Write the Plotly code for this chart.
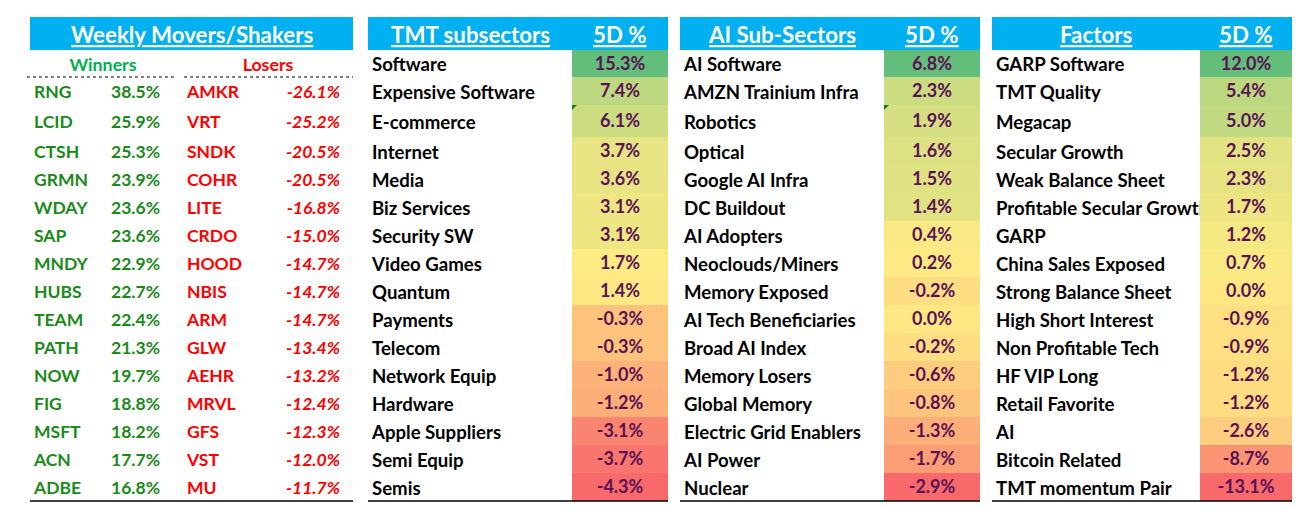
import numpy as np
import plotly.graph_objects as go

# ---------------- data ----------------
WIN_TICKERS = ["RNG", "LCID", "CTSH", "GRMN", "WDAY", "SAP", "MNDY", "HUBS",
               "TEAM", "PATH", "NOW", "FIG", "MSFT", "ACN", "ADBE"]
WIN_PCT = [38.5, 25.9, 25.3, 23.9, 23.6, 23.6, 22.9, 22.7,
           22.4, 21.3, 19.7, 18.8, 18.2, 17.7, 16.8]
LOSE_TICKERS = ["AMKR", "VRT", "SNDK", "COHR", "LITE", "CRDO", "HOOD", "NBIS",
                "ARM", "GLW", "AEHR", "MRVL", "GFS", "VST", "MU"]
LOSE_PCT = [-26.1, -25.2, -20.5, -20.5, -16.8, -15.0, -14.7, -14.7,
            -14.7, -13.4, -13.2, -12.4, -12.3, -12.0, -11.7]

TMT_NAMES = ["Software", "Expensive Software", "E-commerce", "Internet", "Media",
             "Biz Services", "Security SW", "Video Games", "Quantum", "Payments",
             "Telecom", "Network Equip", "Hardware", "Apple Suppliers",
             "Semi Equip", "Semis"]
TMT_PCT = [15.3, 7.4, 6.1, 3.7, 3.6, 3.1, 3.1, 1.7, 1.4, -0.3,
           -0.3, -1.0, -1.2, -3.1, -3.7, -4.3]

AI_NAMES = ["AI Software", "AMZN Trainium Infra", "Robotics", "Optical",
            "Google AI Infra", "DC Buildout", "AI Adopters", "Neoclouds/Miners",
            "Memory Exposed", "AI Tech Beneficiaries", "Broad AI Index",
            "Memory Losers", "Global Memory", "Electric Grid Enablers",
            "AI Power", "Nuclear"]
AI_PCT = [6.8, 2.3, 1.9, 1.6, 1.5, 1.4, 0.4, 0.2, -0.2, 0.0,
          -0.2, -0.6, -0.8, -1.3, -1.7, -2.9]

FACTOR_NAMES = ["GARP Software", "TMT Quality", "Megacap", "Secular Growth",
                "Weak Balance Sheet", "Profitable Secular Growth", "GARP",
                "China Sales Exposed", "Strong Balance Sheet",
                "High Short Interest", "Non Profitable Tech", "HF VIP Long",
                "Retail Favorite", "AI", "Bitcoin Related", "TMT momentum Pair"]
FACTOR_PCT = [12.0, 5.4, 5.0, 2.5, 2.3, 1.7, 1.2, 0.7, 0.0, -0.9,
              -0.9, -1.2, -1.2, -2.6, -8.7, -13.1]

TABLES = [
    ("TMT subsectors", TMT_NAMES, TMT_PCT),
    ("AI Sub-Sectors", AI_NAMES, AI_PCT),
    ("Factors", FACTOR_NAMES, FACTOR_PCT),
]

# ---------------- look ----------------
OX, OY = 8, 8                 # page body margin
W, H = 1305 - 2 * OX, 514 - 2 * OY
FONT = "Lato"
FS_P1, FS_LAB, FS_VAL, FS_HEAD, FS_WL = 17.5, 18.6, 18, 22.3, 17.8
BLUE = "#00B0F0"
PURPLE = "#5A1254"
WIN_GREEN = "#1A8A1A"
LOSE_RED = "#FF0000"
RED, YEL, GRN = "#F8696B", "#FFEB84", "#63BE7B"   # excel 3-colour scale

# vertical geometry in page pixels
HEAD_Y = (17, 50)
ROW_H = [27, 28, 32] + [28] * 13
edges = np.concatenate([[HEAD_Y[1]], HEAD_Y[1] + np.cumsum(ROW_H)])
CENTERS = (edges[:-1] + edges[1:]) / 2
TEXT_DY = 3                    # nudge scatter text down to sit centred like excel
BOTTOM = edges[-1]

# panel x geometry in page pixels: left, split (start of value column), right
P1 = (30, 353)
PANELS = [(368, 572, 668), (680, 884, 980), (992, 1200, 1292)]

fig = go.Figure()
layout = dict(
    width=W, height=H, margin=dict(l=0, r=0, t=0, b=0),
    paper_bgcolor="white", plot_bgcolor="white", showlegend=False,
    yaxis=dict(domain=[0, 1], range=[OY + H, OY], visible=False, fixedrange=True, anchor="x"),
)


def px(v):
    return (v - OX) / W


def xaxis(n, a, b):
    layout["xaxis" if n == 1 else "xaxis%d" % n] = dict(
        domain=[px(a), px(b)], range=[a, b], visible=False, fixedrange=True, anchor="y")
    return "x" if n == 1 else "x%d" % n


def font(color, size, italic=False):
    return dict(family=FONT, size=size, color=color, weight="bold",
                style="italic" if italic else "normal")


shapes, annotations = [], []


def hline(a, b, y, **line):
    shapes.append(dict(type="line", xref="paper", yref="y", x0=px(a), x1=px(b),
                       y0=y, y1=y, line=line))


def header(a, b):
    shapes.append(dict(type="rect", xref="paper", yref="y", x0=px(a), x1=px(b),
                       y0=HEAD_Y[0], y1=HEAD_Y[1], fillcolor=BLUE, line_width=0, layer="below"))
    hline(a, b, BOTTOM, color="black", width=1.5)


def head_text(txt, xc):
    annotations.append(dict(text="<u>%s</u>" % txt, xref="paper", yref="y",
                            x=px(xc), y=sum(HEAD_Y) / 2 + 1, showarrow=False,
                            xanchor="center", yanchor="middle",
                            font=dict(family=FONT, size=FS_HEAD, color="white", weight="bold")))


# ---------------- panel 1 : movers / shakers ----------------
x1 = xaxis(1, *P1)
header(*P1)
head_text("Weekly Movers/Shakers", sum(P1) / 2)
ty = list(CENTERS[1:] + TEXT_DY)
n = len(WIN_TICKERS)
fig.add_trace(go.Scatter(x=[103, 268], y=[CENTERS[0] + TEXT_DY] * 2, text=["Winners", "Losers"],
                         mode="text", textposition="middle center", xaxis=x1, yaxis="y",
                         textfont=dict(family=FONT, size=FS_WL, color=["#00B050", LOSE_RED],
                                       weight="bold")))
fig.add_trace(go.Scatter(x=[34] * n, y=ty, text=WIN_TICKERS, mode="text",
                         textposition="middle right", xaxis=x1, yaxis="y",
                         textfont=font(WIN_GREEN, FS_P1)))
fig.add_trace(go.Scatter(x=[160] * n, y=ty, text=["%.1f%%" % v for v in WIN_PCT],
                         mode="text", textposition="middle left", xaxis=x1, yaxis="y",
                         textfont=font(WIN_GREEN, FS_P1)))
fig.add_trace(go.Scatter(x=[187] * n, y=ty, text=LOSE_TICKERS, mode="text",
                         textposition="middle right", xaxis=x1, yaxis="y",
                         textfont=font(LOSE_RED, FS_P1)))
fig.add_trace(go.Scatter(x=[340] * n, y=ty, text=["%.1f%%" % v for v in LOSE_PCT],
                         mode="text", textposition="middle left", xaxis=x1, yaxis="y",
                         textfont=font(LOSE_RED, FS_P1, italic=True)))
for a, b in [(27, 175), (184, 353)]:
    hline(a, b, edges[1], color="black", width=1, dash="dot")

# ---------------- panels 2-4 : heat tables ----------------
n_ax = 2
for (title, names, vals), (left, split, right) in zip(TABLES, PANELS):
    xl = xaxis(n_ax, left, split)
    xv = xaxis(n_ax + 1, split, right)
    n_ax += 2
    header(left, right)
    head_text(title, (left + split) / 2)
    head_text("5D %", (split + right) / 2)

    fig.add_trace(go.Scatter(x=[left + 4] * len(names), y=list(CENTERS + TEXT_DY), text=names,
                             mode="text", textposition="middle right", cliponaxis=True,
                             xaxis=xl, yaxis="y", textfont=font("black", FS_LAB)))

    v = np.array(vals)
    lo, mid, hi = v.min(), np.median(v), v.max()
    m = (mid - lo) / (hi - lo)
    fig.add_trace(go.Heatmap(
        z=[[x] for x in vals], y=list(edges), x=[split, right],
        zmin=lo, zmax=hi, colorscale=[[0, RED], [m, YEL], [1, GRN]], showscale=False,
        texttemplate="<b>%{z:.1f}%</b>", textfont=dict(family=FONT, size=FS_VAL, color=PURPLE),
        xaxis=xv, yaxis="y", hoverinfo="skip"))

# excel error-indicator triangles in the third row of the first two tables
for left, split, right in PANELS[:2]:
    x0, y0 = px(split), edges[2]
    shapes.append(dict(type="path", xref="paper", yref="y",
                       path="M %f %f L %f %f L %f %f Z" % (x0, y0, x0 + 5 / W, y0, x0, y0 + 5),
                       fillcolor="#1E7B1E", line_width=0))

layout["shapes"] = shapes
layout["annotations"] = annotations
fig.update_layout(**layout)
fig.write_html("out.html")
